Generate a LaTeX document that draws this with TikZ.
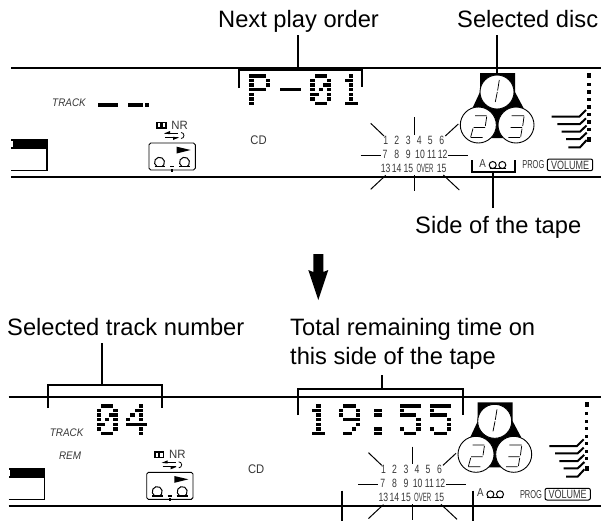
\documentclass[tikz,border=0pt]{standalone}
\usepackage{fontspec}
\usepackage{graphicx}
\setmainfont{Liberation Sans}
\newcommand{\lcdfs}[1]{\fontsize{#1}{#1}\selectfont}
\tikzset{
  thick line/.style={line width=2pt,black},
  bracket/.style={line width=1.9pt,black},
  ray/.style={line width=1pt,black},
  seg/.style={line width=.75pt,black},
  caption/.style={anchor=base west,inner sep=0pt,font=\lcdfs{23.7},text=black},
  small/.style={inner sep=0pt,text=lcdgray,font=\lcdfs{12}},
  disc/.style={circle,draw=black,line width=.9pt,fill=white,minimum size=#1,inner sep=0pt},
  wedge/.style={line width=2pt,black}
}
\definecolor{lcdgray}{gray}{0.22}
\newcommand{\dotm}[3]{%
  \foreach \c/\r in {#3}{%
    \fill[black] ({#1+4.2*\c},{#2+4.55*\r}) rectangle ++(4.2,3.5);
  }%
}
\newcommand{\Pzero}[2]{\dotm{#1}{#2}{1/0,2/0,3/0,0/1,4/1,0/2,3/2,4/2,0/3,2/3,4/3,0/4,1/4,4/4,0/5,4/5,1/6,2/6,3/6}}
\newcommand{\Pone}[2]{\dotm{#1}{#2}{2/0,1/1,2/1,2/2,2/3,2/4,2/5,1/6,2/6,3/6}}
\newcommand{\Pfour}[2]{\dotm{#1}{#2}{3/0,2/1,3/1,1/2,3/2,0/3,3/3,0/4,1/4,2/4,3/4,4/4,3/5,3/6}}
\newcommand{\Pfive}[2]{\dotm{#1}{#2}{0/0,1/0,2/0,3/0,4/0,0/1,0/2,1/2,2/2,3/2,4/3,4/4,0/5,4/5,1/6,2/6,3/6}}
\newcommand{\Pnine}[2]{\dotm{#1}{#2}{1/0,2/0,3/0,0/1,4/1,0/2,4/2,1/3,2/3,3/3,4/3,4/4,3/5,1/6,2/6}}
\newcommand{\Pp}[2]{\dotm{#1}{#2}{0/0,1/0,2/0,3/0,0/1,4/1,0/2,4/2,0/3,1/3,2/3,3/3,0/4,0/5,0/6}}
\newcommand{\Pdash}[2]{\dotm{#1}{#2}{0/3,1/3,2/3,3/3,4/3}}
\newcommand{\Pcolon}[2]{\dotm{#1}{#2}{1/1,2/1,1/2,2/2,1/5,2/5,1/6,2/6}}
\newcommand{\displaypanel}{%
  \draw[thick line] (11,67.6) -- (620,67.6);
  \draw[thick line] (11,176.8) -- (620,176.8);
  \fill[black] (11,139) rectangle (47.6,149);
  \draw[line width=1.1pt] (11,170.4) -- (47,170.4) -- (47,140);
  \fill[white] (11,140.5) rectangle (12.5,147);
  \node[small,font=\lcdfs{11}\itshape] (track) at (69,103) {\scalebox{.9}[1]{TRACK}};
  \node[small] (nr) at (179.7,125) {\scalebox{.95}[1]{NR}};
  \node[small,font=\lcdfs{12.5}] (cd) at (258.5,140.3) {\scalebox{.9}[1]{CD}};
  \fill[black] (156,122) rectangle (166.7,128.5);
  \fill[white] (158,123.3) rectangle (160.3,127.2);
  \fill[white] (162.6,123.3) rectangle (164.8,127.2);
  \draw[line width=.8pt] (165,133.5) -- (178,133.5);
  \draw[line width=.8pt] (165,137.5) -- (178,137.5);
  \fill[black] (170,131) -- (164,133.5) -- (170,134.2) -- cycle;
  \fill[black] (173,136.8) -- (179,137.5) -- (173,140) -- cycle;
  \draw[line width=.8pt] (181,132.5) arc (-90:90:3);
  \draw[line width=.9pt,rounded corners=1.7pt] (149,143) rectangle (195.3,170);
  \fill[black] (176.7,146.7) -- (190.7,150) -- (176.7,153.5) -- cycle;
  \draw[line width=1pt] (157,166.6) arc (120:420:5);
  \draw[line width=1pt] (182,166.6) arc (120:420:5);
  \draw[line width=1.2pt] (154.5,166.6) -- (165,166.6) (170,166.6) -- (174,166.6) (179,166.6) -- (190,166.6);
  \fill[black] (171,169) rectangle (173,171.5);
  \foreach \t/\x/\y in {1/385.7/140,2/396.7/140,3/408.3/140,4/419.3/140,5/430.3/140,6/441.7/140,
     7/385/154.3,8/396.7/154.3,9/408.3/154.3,10/420/154.3,11/431.7/154.3,12/442.7/154.3,
     13/385.7/168,14/396.7/168,15/408.3/168,15/441.7/168}{
    \node[small] at (\x,\y) {\scalebox{.72}[1]{\t}};
  }
  \node[small] (over) at (425,168) {\scalebox{.5}[1]{OVER}};
  \draw[ray] (370.7,123.3) -- (384,136);
  \draw[ray] (414.7,117.3) -- (414.7,135);
  \draw[ray] (458.3,124) -- (445.3,136);
  \draw[ray] (360.7,155) -- (380.7,155);
  \draw[ray] (448.3,155) -- (468,155);
  \draw[ray] (385.7,175.3) -- (370.7,189.3);
  \draw[ray] (414.7,175) -- (414.7,191);
  \draw[ray] (443.3,175) -- (459.3,190);
  \fill[black] (480,73) -- (515,73) -- (515,92) -- (523.5,108) -- (523.5,112) -- (503,138) -- (490,138) -- (472.5,112) -- (472.5,108) -- (480,92) -- cycle;
  \node[disc=34pt] (disc1) at (497,92) {};
  \node[disc=36pt] (disc2) at (478.3,125) {};
  \node[disc=36pt] (disc3) at (516,125) {};
  \draw[seg] (499.3,80) -- (497.6,90.5) (497.3,92) -- (495.3,102);
  \draw[seg] (475,115.7) -- (486.7,115.7) (486.7,116.7) -- (485.3,126) (473.5,127.5) -- (485,127.5) (473,128.5) -- (470.7,137) (470.7,137.5) -- (482.7,137.5);
  \draw[seg] (511.7,115.7) -- (524,115.7) (524,116.7) -- (522.7,126) (510.7,127.5) -- (522,127.5) (522,128.7) -- (520.7,136.7) (508.3,137.5) -- (520,137.5);
  \foreach \y in {84.5,92,99.5,107,114.5,122,129.5}{\fill[black] (586.9,\y-1.6) rectangle (590.7,\y+1.6);}
  \fill[black] (586.8,72.5) rectangle (590.8,77.5);
  \fill[black] (586.8,136.5) rectangle (590.8,141.5);
  \draw[wedge] (551.7,116.7) -- (579.3,116.7) -- (586,110);
  \draw[wedge] (557.3,124) -- (580,124) -- (586,118.3);
  \draw[wedge] (561.7,131.7) -- (580,131.7) -- (586.5,125.5);
  \draw[wedge] (566,139) -- (580,139) -- (586.7,132.7);
  \draw[wedge] (568.3,147.3) -- (580,147.3) -- (586.7,140);
  \node[small,font=\lcdfs{11.5}] (sidea) at (482.7,163.3) {\scalebox{.85}[1]{A}};
  \draw[line width=1pt] (492.7,165) circle (3.5) (502.3,165) circle (3.5);
  \draw[line width=1pt] (489.5,168.6) -- (505.5,168.6);
  \node[small,font=\lcdfs{11.5}] (prog) at (533.3,165) {\scalebox{.65}[1]{PROG}};
  \draw[line width=1pt,rounded corners=2pt] (547.3,159) rectangle (592.7,170.7);
  \node[small,font=\lcdfs{12}] (volume) at (570,165) {\scalebox{.75}[1]{VOLUME}};
}
\begin{document}
\begin{tikzpicture}[x=1pt,y=-1pt]
\useasboundingbox (0,0) rectangle (601,520);
\clip (0,0) rectangle (601,520);
\fill[white] (0,0) rectangle (601,520);
\begin{scope}[name prefix=up-]
  \displaypanel
\end{scope}
\draw[line width=3.3pt] (98,105) -- (117.7,105) (128,105) -- (143,105);
\fill[black] (145,103.3) rectangle (149,106.7);
\Pp{249.3}{74.3}\Pdash{279.8}{74.3}\Pzero{310.3}{74.3}\Pone{340.8}{74.3}
\node[caption] (nextplay) at (218,27.7) {Next play order};
\node[caption] (seldisc) at (457,27.7) {Selected disc};
\node[caption] (sidetape) at (415,233) {Side of the tape};
\coordinate (npS) at (297.7,35);
\coordinate (npB) at (297.7,70);
\coordinate (npL) at (239,70);
\coordinate (npR) at (361.7,70);
\draw[bracket] (npS) -- (npB);
\draw[bracket] (239,88) -- (npL) -- (npR) -- (361.7,87);
\coordinate (sdS) at (497,35);
\draw[bracket] (sdS) -- (up-disc1.north);
\coordinate (stS) at (492.7,208);
\coordinate (stB) at (492.7,171.7);
\draw[bracket] (stS) -- (stB);
\draw[bracket] (471.7,160) -- (471.7,171.7) -- (514.7,171.7) -- (514.7,160);
\fill[black] (313.3,254) -- (323.3,254) -- (323.3,272) -- (328.3,270) -- (318.3,300) -- (308.3,270) -- (313.3,272) -- cycle;
\begin{scope}[shift={(-2.3,329.3)},name prefix=lo-]
  \displaypanel
  \node[small,font=\lcdfs{11}\itshape] (rem) at (72.3,126) {\scalebox{.9}[1]{REM}};
\end{scope}
\Pzero{96.5}{404.3}\Pfour{126.2}{404.3}
\Pone{308}{404.3}\Pnine{339}{404.3}\Pcolon{369.5}{404.3}\Pfive{399.5}{404.3}\Pfive{430}{404.3}
\node[caption] (seltrack) at (7,335) {Selected track number};
\node[caption] (total) at (290,335) {Total remaining time on};
\node[caption] (thisside) at (290,364) {this side of the tape};
\coordinate (trS) at (101.7,343);
\coordinate (trB) at (101.7,385);
\draw[bracket] (trS) -- (trB);
\draw[bracket] (47.7,408) -- (47.7,385) -- (162,385) -- (162,408);
\coordinate (ttS) at (382.3,375);
\coordinate (ttB) at (382.3,389.3);
\draw[bracket] (ttS) -- (ttB);
\draw[bracket] (297.7,415) -- (297.7,389.3) -- (463.3,389.3) -- (463.3,415);
\draw[bracket] (341.7,490.7) -- (341.7,525);
\draw[bracket] (473.3,490.7) -- (473.3,525);
\end{tikzpicture}
\end{document}
